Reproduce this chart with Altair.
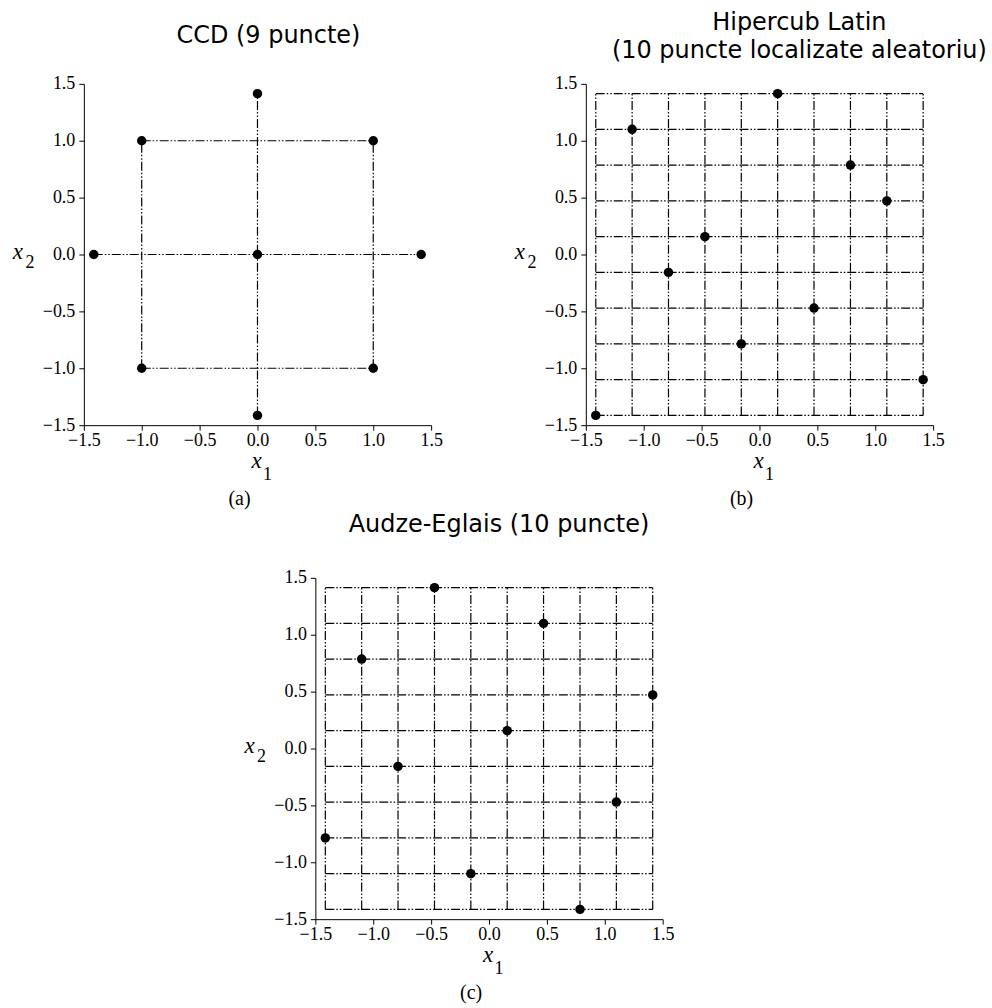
import altair as alt
import pandas as pd

# ---- design points -------------------------------------------------------
# Central composite design: factorial corners, axial (star) points, centre
ccd_x1 = [-1.0, 1.0, -1.0, 1.0, -1.414, 1.414, 0.0, 0.0, 0.0]
ccd_x2 = [-1.0, -1.0, 1.0, 1.0, 0.0, 0.0, -1.414, 1.414, 0.0]

# Connecting lines of the CCD (start x1, start x2, end x1, end x2)
ccd_seg_x1 = [-1.0, 1.0, 0.0, -1.0, -1.0, -1.414]
ccd_seg_x2 = [-1.0, -1.0, -1.414, 1.0, -1.0, 0.0]
ccd_seg_x1e = [-1.0, 1.0, 0.0, 1.0, 1.0, 1.414]
ccd_seg_x2e = [1.0, 1.0, 1.414, 1.0, -1.0, 0.0]

# The ten levels used by the 10-point designs
levels = [-1.414, -1.1, -0.786, -0.471, -0.157, 0.157, 0.471, 0.786, 1.1, 1.414]

# Latin hypercube (random placement)
lhs_x1 = [-1.414, -1.1, -0.786, -0.471, -0.157, 0.157, 0.471, 0.786, 1.1, 1.414]
lhs_x2 = [-1.414, 1.1, -0.157, 0.157, -0.786, 1.414, -0.471, 0.786, 0.471, -1.1]

# Audze-Eglais optimal design
ae_x1 = [-1.414, -1.1, -0.786, -0.471, -0.157, 0.157, 0.471, 0.786, 1.1, 1.414]
ae_x2 = [-0.786, 0.786, -0.157, 1.414, -1.1, 0.157, 1.1, -1.414, -0.471, 0.471]

tick_values = [-1.5, -1.0, -0.5, 0.0, 0.5, 1.0, 1.5]

W, H = 348, 342
SERIF = "Liberation Serif"
SANS = "DejaVu Sans"
DASH = [9, 2, 1.5, 2, 1.5, 2]

one = pd.DataFrame({"k": [0]})

x_enc = alt.X(
    "x1:Q",
    title=None,
    scale=alt.Scale(domain=[-1.5, 1.5], nice=False, zero=False),
    axis=alt.Axis(values=tick_values, format=".1f", labelPadding=1, labelFlush=False),
)
y_enc = alt.Y(
    "x2:Q",
    title=None,
    scale=alt.Scale(domain=[-1.5, 1.5], nice=False, zero=False),
    axis=alt.Axis(values=tick_values, format=".1f", labelPadding=4, labelFlush=False),
)


def grid_frame():
    rows = []
    for v in levels:
        rows.append({"x1": v, "x2": levels[0], "x1e": v, "x2e": levels[-1]})
        rows.append({"x1": levels[0], "x2": v, "x1e": levels[-1], "x2e": v})
    return pd.DataFrame(rows)


def text_layer(txt, x, y, size, font, italic=False, align="center", baseline="middle"):
    props = dict(text=txt, fontSize=size, font=font, color="black",
                 align=align, baseline=baseline)
    if italic:
        props["fontStyle"] = "italic"
    return alt.Chart(one).mark_text(**props).encode(x=alt.value(x), y=alt.value(y))


def annotations(title_lines, title_dx, title_y0, letter):
    cx = W / 2
    layers = []
    for i, line in enumerate(title_lines):
        layers.append(text_layer(line, cx + title_dx, title_y0 + 28 * i, 24, SANS,
                                 baseline="alphabetic"))
    # axis names x1 / x2 with upright subscripts
    layers.append(text_layer("x", cx - 1, H + 36, 23, SERIF, italic=True))
    layers.append(text_layer("1", cx + 10, H + 50, 18, SERIF))
    layers.append(text_layer("x", -66, H / 2 - 2, 23, SERIF, italic=True))
    layers.append(text_layer("2", -54, H / 2 + 9, 18, SERIF))
    # panel letter
    layers.append(text_layer(letter, cx - 18, H + 74, 20, SERIF))
    return layers


def panel(lines_df, pts_df, title_lines, title_dx, title_y0, letter):
    rules = alt.Chart(lines_df).mark_rule(
        color="black", strokeWidth=1.2, strokeDash=DASH
    ).encode(x=x_enc, y=y_enc, x2="x1e:Q", y2="x2e:Q")
    pts = alt.Chart(pts_df).mark_point(
        filled=True, shape="circle", size=90, color="black", opacity=1
    ).encode(x=x_enc, y=y_enc)
    return alt.layer(
        rules, pts, *annotations(title_lines, title_dx, title_y0, letter)
    ).properties(width=W, height=H)


ccd_lines = pd.DataFrame({"x1": ccd_seg_x1, "x2": ccd_seg_x2,
                          "x1e": ccd_seg_x1e, "x2e": ccd_seg_x2e})
ccd_pts = pd.DataFrame({"x1": ccd_x1, "x2": ccd_x2})
lhs_pts = pd.DataFrame({"x1": lhs_x1, "x2": lhs_x2})
ae_pts = pd.DataFrame({"x1": ae_x1, "x2": ae_x2})

chart_a = panel(ccd_lines, ccd_pts, ["CCD (9 puncte)"], 11, -41, "(a)")
chart_b = panel(grid_frame(), lhs_pts,
                ["Hipercub Latin", "(10 puncte localizate aleatoriu)"], 40, -54, "(b)")
chart_c = panel(grid_frame(), ae_pts, ["Audze-Eglais (10 puncte)"], 10, -46, "(c)")

# empty block that pushes the third panel towards the middle
spacer = alt.Chart(one).mark_point(opacity=0, size=1).encode(
    x=alt.value(0), y=alt.value(0)
).properties(width=232, height=H)

top = alt.hconcat(chart_a, chart_b, spacing=155, bounds="flush")
bottom = alt.hconcat(spacer, chart_c, spacing=0, bounds="flush")

chart = alt.vconcat(top, bottom, spacing=4).properties(
    padding={"left": 12, "top": 10, "right": 5, "bottom": 5},
    background="white",
).configure_view(
    strokeWidth=0
).configure_axis(
    grid=False,
    domainColor="black",
    domainWidth=1,
    tickColor="black",
    tickWidth=1,
    tickSize=5,
    labelFont=SERIF,
    labelFontSize=18,
    labelColor="black",
)

chart.save("out.html", embed_options={"renderer": "svg", "actions": False})
